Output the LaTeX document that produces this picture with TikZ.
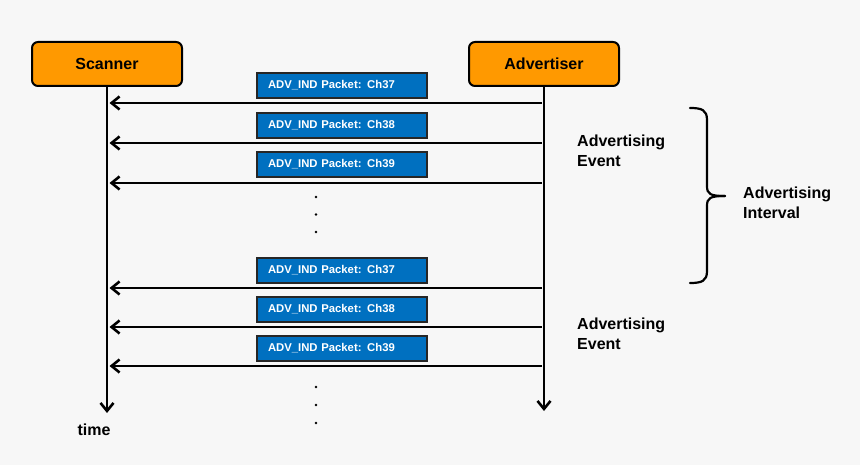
\documentclass[tikz,border=0pt]{standalone}
\usepackage{fontspec}
\setmainfont{Liberation Sans}
\usetikzlibrary{arrows.meta}
\definecolor{bg}{HTML}{F7F7F7}
\definecolor{boxorange}{HTML}{FF9900}
\definecolor{pktblue}{HTML}{0070C0}
\begin{document}
\begin{tikzpicture}[x=1pt,y=-1pt,
 actor/.style={draw=black, line width=2pt, fill=boxorange, rounded corners=6pt, minimum width=150pt, minimum height=44pt, font=\fontsize{16}{19}\selectfont\bfseries, inner sep=0pt},
 pkt/.style={draw=black!85, line width=1.4pt, fill=pktblue, text=white, text width=148pt, align=left, inner xsep=11pt, inner ysep=0pt, minimum height=25pt, font=\fontsize{11.3}{13}\selectfont\bfseries},
 msg/.style={line width=2.2pt, -{Straight Barb[length=8pt,width=13pt,line width=2.6pt]}},
 life/.style={line width=2.2pt, -{Straight Barb[length=8pt,width=13pt,line width=2.6pt]}},
 lbl/.style={font=\fontsize{16}{20}\selectfont\bfseries, align=left, anchor=west, inner sep=0pt},
 dotm/.style={circle, fill=black, inner sep=0pt, minimum size=2.8pt},
 bracel/.style={line width=2.2pt, line cap=round}
]
\fill[bg] (0,0) rectangle (860,465);
\useasboundingbox (0,0) rectangle (860,465);

\node[actor] (scanner) at (107,64) {Scanner};
\node[actor] (adv) at (544,64) {Advertiser};

\coordinate (sEnd) at (107,413);
\coordinate (aEnd) at (544,411);
\draw[life] (scanner.south) -- (sEnd);
\draw[life] (adv.south) -- (aEnd);

\node[lbl, anchor=center] (time) at (94,430) {time};

% packets
\node[pkt] (p1) at (342,85.5) {ADV\_IND Packet: Ch37};
\node[pkt] (p2) at (342,125.5) {ADV\_IND Packet: Ch38};
\node[pkt] (p3) at (342,164.5) {ADV\_IND Packet: Ch39};
\node[pkt] (p4) at (342,270.5) {ADV\_IND Packet: Ch37};
\node[pkt] (p5) at (342,309.5) {ADV\_IND Packet: Ch38};
\node[pkt] (p6) at (342,348.5) {ADV\_IND Packet: Ch39};

\foreach \i/\y in {1/103,2/143,3/183,4/288,5/327,6/366}{
  \coordinate (a\i) at (542,\y);
  \coordinate (s\i) at (109.5,\y);
  \draw[msg] (a\i) -- (s\i);
}

% dots
\node[dotm] (d1) at (316,197) {};
\node[dotm] (d2) at (316,214.5) {};
\node[dotm] (d3) at (316,232) {};
\node[dotm] (d4) at (316,387) {};
\node[dotm] (d5) at (316,405) {};
\node[dotm] (d6) at (316,423) {};

% labels
\node[lbl] (ev1) at (577,150.5) {Advertising\\Event};
\node[lbl] (ev2) at (577,334) {Advertising\\Event};
\node[lbl] (intv) at (743,203) {Advertising\\Interval};

% brace
\coordinate (bt) at (690,108);
\coordinate (bb) at (690,283);
\coordinate (btip) at (725,196);
\draw[bracel] (bt) .. controls (702,108) and (707,110) .. (707,120)
  -- (707,186) .. controls (707,194) and (710,196) .. (btip);
\draw[bracel] (bb) .. controls (702,283) and (707,281) .. (707,271)
  -- (707,206) .. controls (707,198) and (710,196) .. (btip);
\end{tikzpicture}
\end{document}
